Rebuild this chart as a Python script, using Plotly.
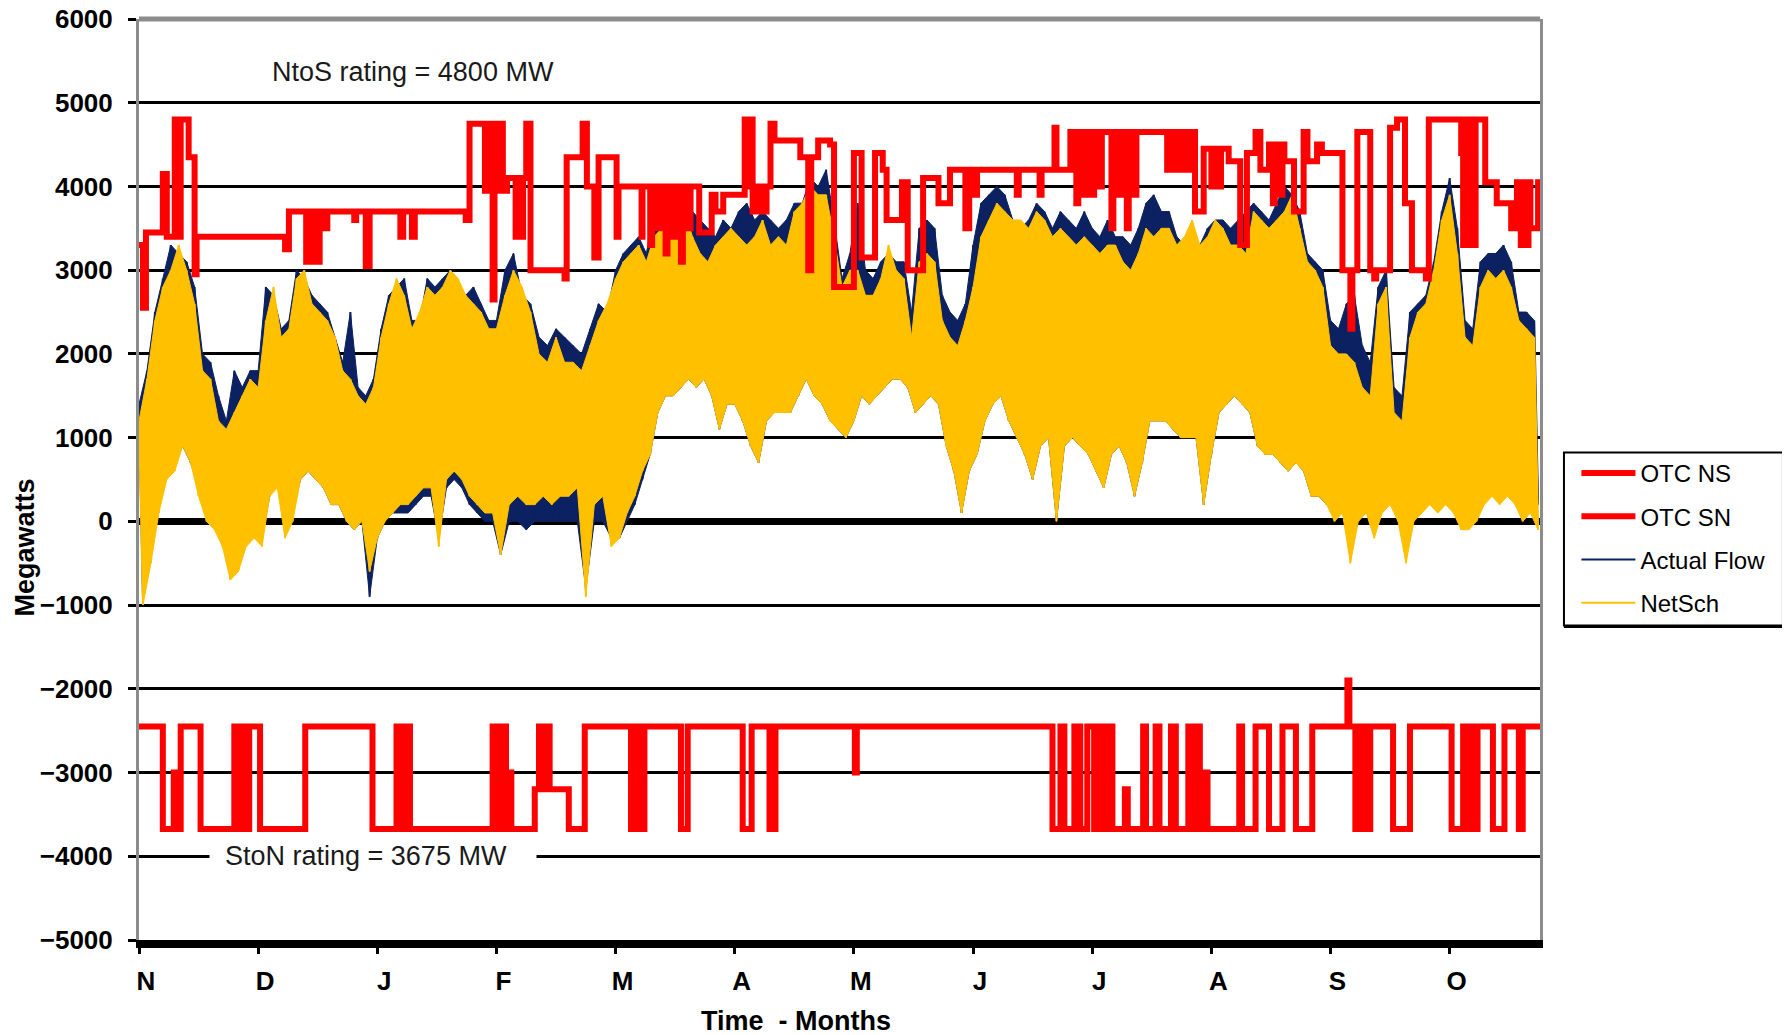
import calendar
import pandas as pd
import plotly.graph_objects as go

# ---------------- data ----------------
MONTH_LABELS = ["N", "D", "J", "F", "M", "A", "M", "J", "J", "A", "S", "O"]
START = "2006-11-01"   # first 2-day period; period k covers day 2k (peak) and 2k+1 (trough)

# Net schedule, 2-day highs / lows (hundreds of MW)
netsch_high = [12,17,24,28,30,33,30,26,18,17,12,11,13,15,17,
               16,24,28,22,23,29,30,26,25,24,22,18,17,15,14,16,
               22,26,29,27,23,25,28,27,28,30,29,27,26,25,23,
               23,27,30,28,25,20,19,22,19,19,18,21,24,26,
               29,31,32,33,31,34,35,36,35,37,34,32,31,33,34,35,
               34,33,34,36,33,34,33,37,38,40,39,39,34,28,30,
               30,27,27,29,33,30,29,22,31,32,31,24,22,21,24,
               28,34,36,38,37,36,36,35,37,36,34,35,34,33,34,
               33,32,33,33,31,30,32,35,34,35,35,33,34,36,33,34,
               36,35,33,33,32,37,36,35,36,37,39,35,31,30,28,
               21,20,20,19,16,15,26,28,13,12,22,25,26,30,36,
               39,32,22,21,28,30,29,30,28,24,23,22]
netsch_low = [-10,-5,1,5,6,9,7,3,0,-1,-3,-7,-6,-3,-2,
              -3,3,4,-2,0,5,6,5,4,2,2,0,-1,0,-6,-2,
              0,1,2,2,3,4,4,-3,5,6,5,3,2,1,1,
              -4,2,3,2,2,3,2,3,3,4,-9,2,3,-3,
              -2,1,3,6,8,13,15,15,16,17,16,17,15,11,14,14,
              12,9,7,12,13,13,13,15,17,15,14,12,11,10,12,
              15,14,15,16,17,17,16,13,14,15,14,9,6,1,6,
              8,12,14,15,12,10,8,5,9,10,0,9,10,9,8,
              6,4,8,9,7,3,7,12,12,12,11,10,10,10,2,8,
              13,14,15,14,13,9,8,8,7,6,7,6,3,3,2,
              0,1,-5,0,1,-2,1,2,0,-5,0,1,2,1,2,
              1,-1,-1,0,2,3,2,3,2,0,1,-1]
# Actual flow, 2-day highs / lows (hundreds of MW)
actual_high = [14,18,25,29,33,32,31,28,20,19,15,12,18,16,18,
               18,28,27,23,24,30,29,27,26,25,22,19,25,16,15,17,
               23,27,28,29,24,24,29,28,29,30,28,27,28,26,24,
               24,30,32,27,26,22,21,23,22,21,20,23,26,25,
               30,32,33,34,32,37,38,39,38,39,37,36,35,34,36,35,
               37,38,36,37,36,35,36,38,38,41,40,42,36,29,32,
               38,30,29,31,32,31,31,25,35,36,35,27,25,24,26,
               33,38,39,40,39,36,35,36,38,37,35,37,36,35,37,
               35,34,36,34,34,33,35,38,39,37,37,34,33,34,33,35,
               36,36,35,36,37,38,37,36,38,40,39,37,32,31,30,
               24,23,26,27,21,19,28,30,16,15,25,26,27,31,37,
               41,35,24,23,31,32,32,33,31,25,25,24]
actual_low = [-9,-4,2,6,7,9,7,4,1,0,-2,-6,-5,-2,-1,
              -2,3,5,-1,1,5,6,5,4,2,2,0,-1,0,-9,-2,
              0,1,1,1,2,3,3,-2,4,5,4,2,1,0,0,
              -4,0,0,-1,0,0,0,0,0,0,-8,0,0,-2,
              -2,0,2,5,8,13,15,15,16,17,16,17,15,11,14,14,
              12,9,7,12,13,13,13,15,17,15,14,12,11,10,12,
              15,14,15,16,17,17,16,13,14,15,14,9,6,1,6,
              8,12,14,15,12,10,8,5,9,10,0,9,10,9,8,
              6,4,8,9,7,3,7,12,12,12,11,10,10,10,2,8,
              13,14,15,14,13,9,8,8,7,6,7,6,3,3,2,
              5,7,6,5,4,3,5,6,3,2,4,5,6,5,6,
              4,2,1,2,5,8,7,6,5,3,4,2]

# OTC NS (N to S operating transfer capability), step changes
otc_ns_dates = ["2006-11-01","2006-11-02","2006-11-02 18:00","2006-11-07","2006-11-08","2006-11-10",
    "2006-11-11","2006-11-11 12:00","2006-11-13 12:00","2006-11-15","2006-11-15 12:00","2006-12-08",
    "2006-12-09","2006-12-13 12:00","2006-12-14 12:00","2006-12-16","2006-12-17","2006-12-18",
    "2006-12-19","2006-12-26","2006-12-26 12:00","2006-12-29","2006-12-30","2007-01-07",
    "2007-01-07 18:00","2007-01-10","2007-01-10 18:00","2007-01-24","2007-01-25","2007-01-29",
    "2007-01-29 12:00","2007-01-30 12:00","2007-01-31","2007-01-31 12:00","2007-02-01 12:00","2007-02-02",
    "2007-02-02 12:00","2007-02-03 12:00","2007-02-05 12:00","2007-02-06","2007-02-06 18:00","2007-02-07 06:00",
    "2007-02-08","2007-02-09","2007-02-17","2007-02-17 12:00","2007-02-21 06:00","2007-02-22 06:00",
    "2007-02-24","2007-02-25","2007-03-01 06:00","2007-03-01 18:00","2007-03-07 18:00","2007-03-08",
    "2007-03-10","2007-03-10 12:00","2007-03-12","2007-03-12 12:00","2007-03-14","2007-03-14 12:00",
    "2007-03-16","2007-03-16 12:00","2007-03-18","2007-03-18 12:00","2007-03-20","2007-03-20 12:00",
    "2007-03-22 18:00","2007-03-26","2007-03-27","2007-03-29","2007-04-03 12:00","2007-04-04 12:00",
    "2007-04-05","2007-04-05 12:00","2007-04-07","2007-04-08","2007-04-09","2007-04-10",
    "2007-04-11","2007-04-17 12:00","2007-04-19 12:00","2007-04-20 06:00","2007-04-22","2007-04-25",
    "2007-04-26","2007-05-01","2007-05-03","2007-05-06 12:00","2007-05-08 12:00","2007-05-09 12:00",
    "2007-05-13 12:00","2007-05-15","2007-05-19","2007-05-23","2007-05-26","2007-05-30",
    "2007-05-31","2007-06-01 12:00","2007-06-02","2007-06-12","2007-06-12 12:00","2007-06-17 18:00",
    "2007-06-18 06:00","2007-06-21 12:00","2007-06-22","2007-06-25 12:00","2007-06-27","2007-06-27 12:00",
    "2007-06-29","2007-06-29 12:00","2007-07-01","2007-07-01 12:00","2007-07-03","2007-07-03 12:00",
    "2007-07-06","2007-07-06 12:00","2007-07-08","2007-07-08 12:00","2007-07-10","2007-07-10 12:00",
    "2007-07-12","2007-07-12 12:00","2007-07-20 12:00","2007-07-21 12:00","2007-07-23","2007-07-24",
    "2007-07-25 12:00","2007-07-26 12:00","2007-07-27 18:00","2007-07-30","2007-08-01","2007-08-01 12:00",
    "2007-08-03","2007-08-03 12:00","2007-08-05 12:00","2007-08-08 12:00","2007-08-10 06:00","2007-08-12 12:00",
    "2007-08-13 18:00","2007-08-16","2007-08-17","2007-08-17 12:00","2007-08-19","2007-08-19 12:00",
    "2007-08-20","2007-08-22 12:00","2007-08-25","2007-08-26","2007-08-28 12:00","2007-08-29 18:00",
    "2007-09-04","2007-09-06","2007-09-06 12:00","2007-09-07 18:00","2007-09-11","2007-09-12",
    "2007-09-12 12:00","2007-09-16","2007-09-17 18:00","2007-09-19 18:00","2007-09-21 12:00","2007-09-25",
    "2007-09-25 18:00","2007-10-04","2007-10-04 12:00","2007-10-05 06:00","2007-10-05 18:00","2007-10-06 12:00",
    "2007-10-07","2007-10-07 18:00","2007-10-10 06:00","2007-10-13 06:00","2007-10-17","2007-10-18 12:00",
    "2007-10-19 12:00","2007-10-20","2007-10-21","2007-10-21 12:00","2007-10-22","2007-10-24",
    "2007-10-24 12:00"]
otc_ns_mw = [3300,2550,3450,4150,3400,4800,
    3400,4800,4350,2950,3400,3250,
    3700,3100,3700,3100,3700,3500,
    3700,3600,3700,3050,3700,3400,
    3700,3400,3700,3600,4750,3950,
    4750,3950,2650,4750,3950,4750,
    3950,4100,3400,4100,3400,4100,
    4750,3000,2900,4350,4750,4000,
    3150,4350,3400,4000,3400,4000,
    3300,4000,3500,4000,3200,4000,
    3400,4000,3100,4000,3500,4000,
    3450,3900,3700,3900,4800,4000,
    4800,3700,4000,3700,4000,4750,
    4550,4350,3000,4350,4550,4500,
    2800,4400,3150,4400,4200,3600,
    4050,3000,4100,3800,4200,3500,
    4200,3900,4200,3900,4200,3900,
    4200,4700,4200,4650,3800,4650,
    3900,4650,3900,4650,4000,4650,
    3500,4650,3900,4650,3500,4650,
    3900,4650,4200,4650,4200,4650,
    4200,4650,3700,4450,4000,4450,
    4000,4450,4300,3300,4400,4650,
    4200,4500,3800,4500,3900,4500,
    4300,3700,4650,4300,4500,4400,
    3000,2300,3000,4650,3000,2900,
    3000,4700,4800,3800,3000,2900,
    4800,4400,3300,4800,3300,4800,
    3300,4800,4050,3800,3500,4050,
    3300,4050,3300,4050,3500,4050,
    4050]

# OTC SN (S to N operating transfer capability), step changes
otc_sn_dates = ["2006-11-01","2006-11-07","2006-11-09 18:00","2006-11-10 06:00","2006-11-11 12:00","2006-11-16 12:00",
    "2006-11-25","2006-11-26","2006-11-27","2006-11-28 06:00","2006-11-28 18:00","2006-12-01 12:00",
    "2006-12-13 06:00","2006-12-30 18:00","2007-01-06","2007-01-07 06:00","2007-01-08 06:00","2007-01-09 12:00",
    "2007-01-31","2007-02-01 06:00","2007-02-02 06:00","2007-02-03 06:00","2007-02-04","2007-02-04 12:00",
    "2007-02-10","2007-02-11","2007-02-11 18:00","2007-02-12 18:00","2007-02-13 12:00","2007-02-18",
    "2007-02-21 18:00","2007-03-05","2007-03-05 12:00","2007-03-06","2007-03-06 12:00","2007-03-07",
    "2007-03-07 12:00","2007-03-08","2007-03-08 12:00","2007-03-18","2007-03-19 18:00","2007-04-03",
    "2007-04-05 06:00","2007-04-09 18:00","2007-04-11 06:00","2007-05-01 06:00","2007-05-01 18:00","2007-06-21",
    "2007-06-23","2007-06-24","2007-06-26 12:00","2007-06-28","2007-06-29 18:00","2007-07-01 12:00",
    "2007-07-02 12:00","2007-07-03 18:00","2007-07-05 06:00","2007-07-06 06:00","2007-07-09 12:00","2007-07-10 06:00",
    "2007-07-14 06:00","2007-07-15","2007-07-17 12:00","2007-07-18 12:00","2007-07-21 12:00","2007-07-22 18:00",
    "2007-07-26","2007-07-27 12:00","2007-07-28","2007-07-29","2007-07-29 12:00","2007-07-31",
    "2007-08-08 06:00","2007-08-09","2007-08-12 12:00","2007-08-16","2007-08-19 12:00","2007-08-23",
    "2007-08-27 06:00","2007-09-05 06:00","2007-09-05 18:00","2007-09-07 06:00","2007-09-07 18:00","2007-09-08 06:00",
    "2007-09-08 18:00","2007-09-09 06:00","2007-09-09 18:00","2007-09-10 06:00","2007-09-11","2007-09-16 18:00",
    "2007-09-21","2007-10-01 12:00","2007-10-04 12:00","2007-10-05","2007-10-05 12:00","2007-10-06",
    "2007-10-06 12:00","2007-10-07 06:00","2007-10-08 06:00","2007-10-12 06:00","2007-10-15 06:00","2007-10-19",
    "2007-10-20","2007-10-24 12:00"]
otc_sn_mw = [-2450,-3675,-3000,-3675,-2450,-3675,
    -2450,-3675,-2450,-3675,-2450,-3675,
    -2450,-3675,-2450,-3675,-2450,-3675,
    -2450,-3675,-2450,-3675,-3000,-3675,
    -3200,-2450,-3200,-2450,-3200,-3675,
    -2450,-3675,-2450,-3675,-2450,-3675,
    -2450,-3675,-2450,-3675,-2450,-3675,
    -2450,-3675,-2450,-3000,-2450,-3675,
    -2450,-3675,-2450,-3675,-2450,-3675,
    -2450,-3675,-2450,-3675,-3200,-3675,
    -2450,-3675,-2450,-3675,-2450,-3675,
    -2450,-3675,-2450,-3675,-3000,-3675,
    -2450,-3675,-2450,-3675,-2450,-3675,
    -2450,-1900,-2450,-3675,-2450,-3675,
    -2450,-3675,-2450,-3675,-2450,-3675,
    -2450,-3675,-2450,-3675,-2450,-3675,
    -2450,-3675,-2450,-3675,-2450,-3675,
    -2450,-2450]

# ---------------- helpers ----------------
def month_pos(ts):
    """Position on the equal-width month axis (0 = 1 Nov 2006)."""
    ts = pd.Timestamp(ts)
    dim = calendar.monthrange(ts.year, ts.month)[1]
    frac = (ts.day - 1 + ts.hour / 24 + ts.minute / 1440) / dim
    return (ts.year - 2006) * 12 + (ts.month - 11) + frac

start = pd.Timestamp(START)
peak_x = [month_pos(start + pd.Timedelta(days=2 * k)) for k in range(len(netsch_high))]
trough_x = [month_pos(start + pd.Timedelta(days=2 * k + 1)) for k in range(len(netsch_high))]

def zigzag(highs, lows):
    xs, ys = [], []
    for px, tx, h, l in zip(peak_x, trough_x, highs, lows):
        xs += [px, tx]
        ys += [h * 100, l * 100]
    return xs, ys

def band(highs, lows):
    xs = peak_x + trough_x[::-1]
    ys = [h * 100 for h in highs] + [l * 100 for l in lows[::-1]]
    return xs, ys

FONT = "Liberation Sans, Arial, sans-serif"
RED = "#FF0000"
NAVY = "#0B2161"
GOLD = "#FFC000"

fig = go.Figure()
bx, by = band(actual_high, actual_low)
fig.add_trace(go.Scatter(x=bx, y=by, mode="lines", fill="toself", fillcolor=NAVY,
                         line=dict(color=NAVY, width=1), showlegend=False, hoverinfo="skip"))
zx, zy = zigzag(actual_high, actual_low)
fig.add_trace(go.Scatter(x=zx, y=zy, mode="lines", name="Actual Flow",
                         line=dict(color=NAVY, width=2), legendrank=3, legendgroup="c"))
bx, by = band(netsch_high, netsch_low)
fig.add_trace(go.Scatter(x=bx, y=by, mode="lines", fill="toself", fillcolor=GOLD,
                         line=dict(color=GOLD, width=1), showlegend=False, hoverinfo="skip"))
zx, zy = zigzag(netsch_high, netsch_low)
fig.add_trace(go.Scatter(x=zx, y=zy, mode="lines", name="NetSch",
                         line=dict(color=GOLD, width=2), legendrank=4, legendgroup="d"))
fig.add_trace(go.Scatter(x=[month_pos(d) for d in otc_ns_dates], y=otc_ns_mw, mode="lines",
                         name="OTC NS", line=dict(color=RED, width=6, shape="hv"),
                         legendrank=1, legendgroup="a"))
fig.add_trace(go.Scatter(x=[month_pos(d) for d in otc_sn_dates], y=otc_sn_mw, mode="lines",
                         name="OTC SN", line=dict(color=RED, width=6, shape="hv"),
                         legendrank=2, legendgroup="b"))

x_end = month_pos("2007-10-24 12:00")

# the page body has an 8px margin, so the figure is 8px smaller than the window
fig.update_layout(
    width=1782, height=1027,
    margin=dict(l=131, r=250, t=11, b=95, autoexpand=False),
    paper_bgcolor="white", plot_bgcolor="white",
    font=dict(family=FONT, color="black"),
    showlegend=True,
    legend=dict(x=1.026, y=0.531, xanchor="left", yanchor="top",
                bgcolor="rgba(0,0,0,0)", borderwidth=0,
                font=dict(family=FONT, size=24, color="black"),
                tracegroupgap=9, itemwidth=54),
    xaxis=dict(range=[0, x_end], tickvals=list(range(12)), ticktext=MONTH_LABELS,
               showgrid=False, zeroline=False, automargin=False,
               showline=True, linecolor="black", linewidth=8,
               ticks="outside", ticklen=6, tickwidth=3, tickcolor="black",
               tickfont=dict(family=FONT, size=26, weight="bold"),
               ticklabelshift=7, ticklabelstandoff=5, ticklabeloverflow="allow"),
    yaxis=dict(range=[-5000, 6000], dtick=1000, tick0=0, tickformat="d",
               showgrid=True, gridcolor="black", gridwidth=3, automargin=False,
               zeroline=True, zerolinecolor="black", zerolinewidth=7,
               showline=True, linecolor="#8C8C8C", linewidth=3, mirror=True,
               ticks="outside", ticklen=8, tickwidth=3, tickcolor="black",
               tickfont=dict(family=FONT, size=26, weight="bold"),
               ticklabelstandoff=10, ticklabeloverflow="allow"),
)

# grey top border of the plot
fig.add_shape(type="line", xref="paper", yref="paper", x0=0, x1=1, y0=1, y1=1,
              line=dict(color="#8C8C8C", width=5), layer="above")
# legend frame with a heavier bottom/right edge
fig.add_shape(type="rect", xref="paper", yref="paper", x0=1.0171, x1=1.1734, y0=0.3415, y1=0.5293,
              fillcolor="white", line=dict(color="black", width=2), layer="below")
fig.add_shape(type="line", xref="paper", yref="paper", x0=1.0171, x1=1.1748, y0=0.3405, y1=0.3405,
              line=dict(color="black", width=3))
fig.add_shape(type="line", xref="paper", yref="paper", x0=1.1744, x1=1.1744, y0=0.3405, y1=0.5293,
              line=dict(color="black", width=3))
# outer chart border on the right
fig.add_shape(type="line", xref="paper", yref="paper", x0=1.1763, x1=1.1763, y0=-0.11, y1=1.03,
              line=dict(color="black", width=2))

fig.add_annotation(x=0.1956, xref="paper", y=5370, yref="y", xanchor="center",
                   text="NtoS rating = 4800 MW", showarrow=False,
                   font=dict(family=FONT, size=27, color="#1a1a1a"))
fig.add_annotation(x=0.05, xref="paper", y=-4000, yref="y", xanchor="left",
                   text="\u00a0\u00a0StoN rating = 3675 MW\u00a0\u00a0\u00a0\u00a0",
                   showarrow=False, bgcolor="white", borderpad=0,
                   font=dict(family=FONT, size=27, color="#1a1a1a"))
fig.add_annotation(x=-0.0814, xref="paper", y=0.426, yref="paper", xanchor="center",
                   yanchor="middle", text="Megawatts", textangle=-90, showarrow=False,
                   font=dict(family=FONT, size=27, weight="bold", color="black"))
fig.add_annotation(x=0.469, xref="paper", y=-0.0882, yref="paper", xanchor="center",
                   yanchor="middle", text="Time  - Months", showarrow=False,
                   font=dict(family=FONT, size=27, weight="bold", color="black"))
fig.add_annotation(x=0.631, xref="paper", y=1.0, yref="paper", yshift=9, yanchor="bottom",
                   xanchor="center", text="Nov 1, 2006 thru Oct 31, 2007", showarrow=False,
                   font=dict(family=FONT, size=24, weight="bold", color="black"))

fig.write_html("out.html")
